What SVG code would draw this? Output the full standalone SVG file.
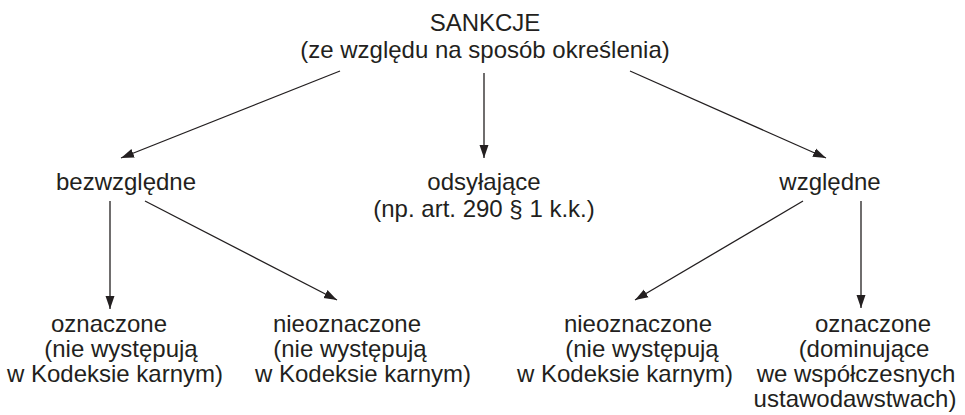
<svg xmlns="http://www.w3.org/2000/svg" width="965" height="415" viewBox="0 0 965 415">
<style>
text{font-family:"Liberation Sans",Arial,sans-serif;font-size:24px;fill:#231f20;text-anchor:middle}
.c line{stroke:#231f20;stroke-width:1.3;marker-end:url(#ah)}
</style>
<defs>
<marker id="ah" markerUnits="userSpaceOnUse" markerWidth="14" markerHeight="10" refX="13" refY="5" orient="auto" viewBox="0 0 14 10">
<path d="M0,0.5 L13,5 L0,9.5 Z" fill="#231f20"/>
</marker>
</defs>
<rect width="965" height="415" fill="#fff"/>
<g id="root"><text x="485" y="31">SANKCJE</text><text x="485" y="58">(ze względu na sposób określenia)</text></g>
<g id="bezwzgledne"><text x="126" y="190">bezwzględne</text></g>
<g id="odsylajace"><text x="484" y="190">odsyłające</text><text x="484" y="217">(np. art. 290 § 1 k.k.)</text></g>
<g id="wzgledne"><text x="830" y="190">względne</text></g>
<g id="b-oznaczone"><text x="109" y="332">oznaczone</text><text x="121" y="357">(nie występują</text><text x="115" y="382">w Kodeksie karnym)</text></g>
<g id="b-nieoznaczone"><text x="347" y="332">nieoznaczone</text><text x="350" y="357">(nie występują</text><text x="363" y="382">w Kodeksie karnym)</text></g>
<g id="w-nieoznaczone"><text x="638" y="332">nieoznaczone</text><text x="642" y="357">(nie występują</text><text x="625" y="382">w Kodeksie karnym)</text></g>
<g id="w-oznaczone"><text x="873" y="332">oznaczone</text><text x="864" y="357">(dominujące</text><text x="856" y="382">we współczesnych</text><text x="855" y="407">ustawodawstwach)</text></g>
<g id="connectors" class="c">
<line x1="340" y1="71" x2="121" y2="158"/>
<line x1="484" y1="73" x2="484" y2="158"/>
<line x1="630" y1="71" x2="826" y2="158"/>
<line x1="110" y1="201" x2="110" y2="309"/>
<line x1="145" y1="201" x2="337" y2="300"/>
<line x1="803" y1="201" x2="635" y2="300"/>
<line x1="861" y1="201" x2="861" y2="308"/>
</g>
</svg>
